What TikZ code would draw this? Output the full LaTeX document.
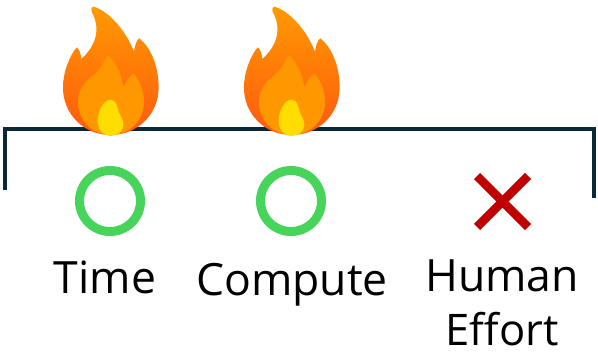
\documentclass[tikz,border=0pt]{standalone}
\usepackage{fontspec}
\setmainfont{Open Sans}
\definecolor{barc}{HTML}{0B2838}
\definecolor{okc}{HTML}{47D45A}
\definecolor{noc}{HTML}{C00000}
\definecolor{fltop}{HTML}{FF9A00}
\definecolor{flbot}{HTML}{FF5A10}
\definecolor{flmid}{HTML}{FF9800}
\definecolor{flcore}{HTML}{FFDD00}
\tikzset{
  ring/.style={circle,draw=okc,line width=9pt,minimum size=61pt,inner sep=0pt},
  lbl/.style={inner sep=0pt,align=center,font=\fontsize{44.5pt}{61pt}\selectfont,text=black},
  lblsm/.style={lbl,font=\fontsize{43.5pt}{61pt}\selectfont},
  barline/.style={draw=barc,line width=4.4pt,line join=miter},
  crossline/.style={draw=noc,line width=8.5pt},
  flame/.pic={
    \begin{scope}[x=0.3333pt,y=-0.3333pt]
    \shade[top color=fltop,bottom color=flbot,middle color=fltop!50!flbot]
      (160,20) .. controls (200,30) and (255,85) .. (282,155)
      .. controls (285,135) and (290,120) .. (298,115)
      .. controls (330,140) and (356,195) .. (356,262)
      .. controls (356,345) and (290,405) .. (212,405)
      .. controls (130,405) and (68,340) .. (69,262)
      .. controls (69,215) and (90,165) .. (110,142)
      .. controls (118,148) and (122,160) .. (124,177)
      .. controls (165,140) and (185,90) .. (155,35)
      .. controls (153,25) and (155,20) .. (160,20) -- cycle;
    \fill[flmid]
      (203,165) .. controls (230,190) and (245,225) .. (250,262)
      .. controls (258,245) and (268,228) .. (280,222)
      .. controls (300,240) and (312,275) .. (312,305)
      .. controls (312,365) and (265,405) .. (212,405)
      .. controls (155,405) and (114,360) .. (114,305)
      .. controls (114,265) and (140,240) .. (165,222)
      .. controls (180,208) and (192,185) .. (203,165) -- cycle;
    \fill[flcore]
      (212,299) .. controls (228,299) and (232,320) .. (236,335)
      .. controls (242,350) and (250,362) .. (250,372)
      .. controls (250,395) and (232,408) .. (212,408)
      .. controls (190,408) and (173,390) .. (173,362)
      .. controls (173,335) and (190,299) .. (212,299) -- cycle;
    \end{scope}
  }
}
\begin{document}
\begin{tikzpicture}[x=1pt,y=-1pt]
\useasboundingbox (0,0) rectangle (598,353);
\coordinate (bl) at (5,190);
\coordinate (tl) at (5,129);
\coordinate (tr) at (594,129);
\coordinate (br) at (594,198);
\draw[barline] (bl) -- (tl) -- (tr) -- (br);
\pic at (40,0) {flame};
\pic at (221,0) {flame};
\node[ring] (r1) at (110,201) {};
\node[ring] (r2) at (291,201) {};
\coordinate (xa) at (477,176);
\coordinate (xb) at (528,227);
\coordinate (xc) at (528,176);
\coordinate (xd) at (477,227);
\draw[crossline] (xa) -- (xb);
\draw[crossline] (xc) -- (xd);
\node[lbl,anchor=base] (t1) at (105,293) {Time};
\node[lbl,anchor=base] (t2) at (292,295) {Compute};
\node[lbl,anchor=base] (t3) at (502,291) {Human};
\node[lblsm,anchor=base] (t4) at (502,345) {Effort};
\end{tikzpicture}
\end{document}
